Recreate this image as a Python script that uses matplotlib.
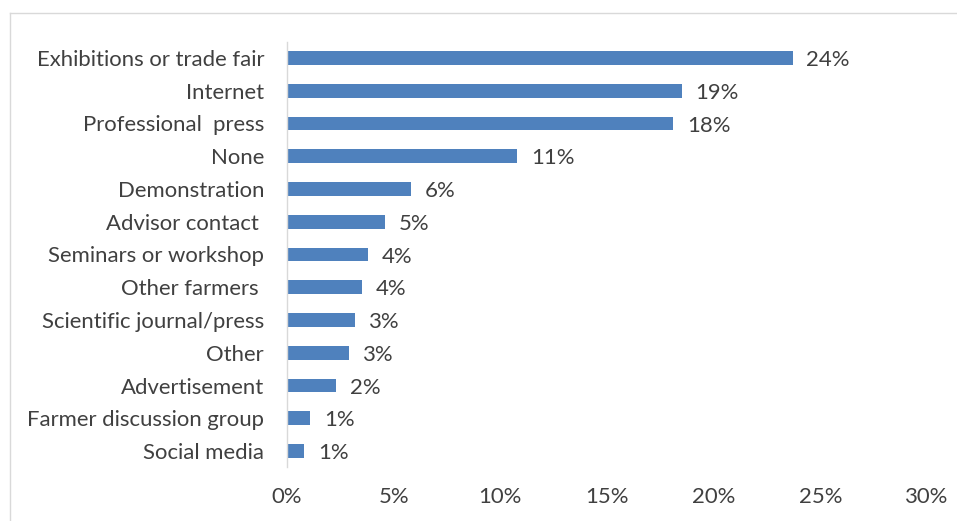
import matplotlib
matplotlib.use("Agg")
import matplotlib.pyplot as plt
from matplotlib.lines import Line2D

categories = ["Exhibitions or trade fair", "Internet", "Professional  press", "None",
              "Demonstration", "Advisor contact ", "Seminars or workshop", "Other farmers ",
              "Scientific journal/press", "Other", "Advertisement", "Farmer discussion group",
              "Social media"]
values = [23.7, 18.5, 18.1, 10.8, 5.8, 4.6, 3.8, 3.5, 3.2, 2.9, 2.3, 1.1, 0.8]
labels = ["24%", "19%", "18%", "11%", "6%", "5%", "4%", "4%", "3%", "3%", "2%", "1%", "1%"]
xticks = [0, 5, 10, 15, 20, 25, 30]
xticklabels = ["0%", "5%", "10%", "15%", "20%", "25%", "30%"]

plt.rcParams['font.family'] = ['Lato', 'DejaVu Sans']
text_color = "#404040"
bar_color = "#4F81BD"
fs = 15.9

fig = plt.figure(figsize=(9.57, 5.21), dpi=100)
ax = fig.add_axes([287/957, 1-467.4/521, 640/957, (467.4-41.6)/521])

y = list(range(len(categories)))
ax.barh(y, values, height=0.42, color=bar_color)
ax.set_ylim(len(categories)-0.5, -0.5)
ax.set_xlim(0, 30)
ax.set_yticks(y)
ax.set_yticklabels(categories, fontsize=fs, color=text_color)
ax.set_xticks(xticks)
ax.set_xticklabels(xticklabels, fontsize=fs, color=text_color)
ax.tick_params(axis='y', length=0, pad=16.5)
ax.tick_params(axis='x', length=0, pad=14)
for s in ['top', 'right', 'bottom']:
    ax.spines[s].set_visible(False)
ax.spines['left'].set_color("#D9D9D9")
ax.spines['left'].set_linewidth(1.0)

for yi, v, lab in zip(y, values, labels):
    ax.annotate(lab, (v, yi), xytext=(10, -1.5), textcoords='offset points',
                va='center', ha='left', fontsize=fs, color=text_color)

fig.add_artist(Line2D([10/957, 10/957], [0, 1-13/521], transform=fig.transFigure, color="#D9D9D9", lw=1))
fig.add_artist(Line2D([10/957, 1], [1-13/521, 1-13/521], transform=fig.transFigure, color="#D9D9D9", lw=1))

fig.savefig("out.png", dpi=100)
